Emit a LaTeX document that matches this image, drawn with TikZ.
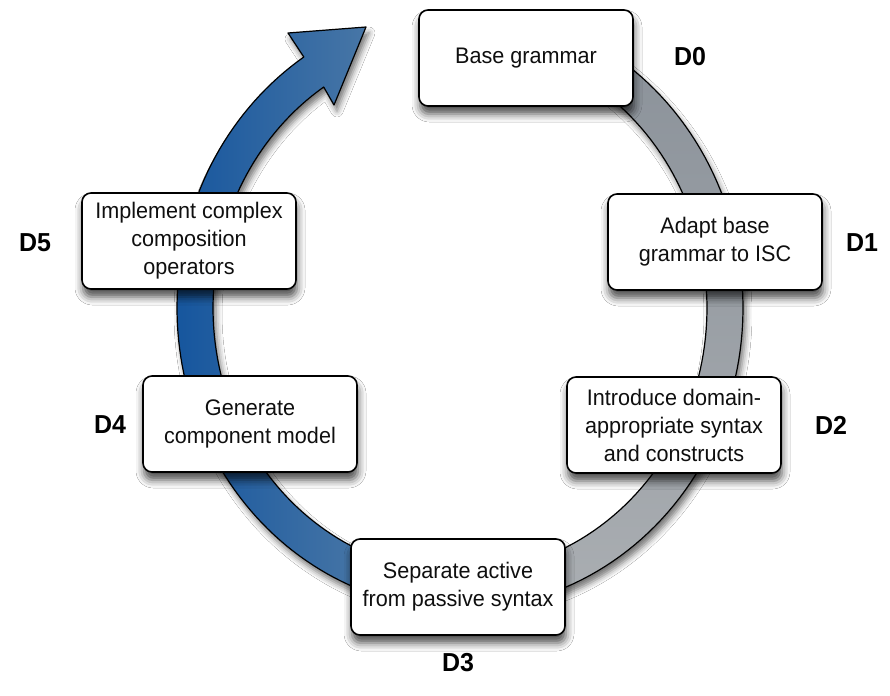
\documentclass[tikz,border=0pt]{standalone}
\usepackage{fontspec}
\setmainfont{Liberation Sans}[FakeStretch=0.96]
\usetikzlibrary{shadows.blur}

\definecolor{inkblack}{RGB}{15,15,15}
\definecolor{ringgrayA}{RGB}{138,145,153}
\definecolor{ringgrayB}{RGB}{170,174,178}
\definecolor{ringblueA}{RGB}{22,86,158}
\definecolor{ringblueB}{RGB}{96,134,170}

\begin{document}
\begin{tikzpicture}[x=1pt,y=-1pt,
  stepbox/.style={draw=black, line width=1.6pt, rounded corners=9pt, fill=white,
    minimum width=214pt, minimum height=96pt, inner sep=4pt, align=center,
    text=inkblack, font=\fontsize{22.5}{28}\selectfont,
    blur shadow={shadow xshift=1pt, shadow yshift=-8pt, shadow blur radius=8pt, shadow opacity=70}},
  stagelabel/.style={font=\fontsize{26}{30}\selectfont\bfseries, text=black},
  band/.style={draw=black, line width=1.2pt, line join=round,
    blur shadow={shadow xshift=3pt, shadow yshift=-6pt, shadow blur radius=6pt, shadow opacity=55}}
]
\fill[white] (0,0) rectangle (890,695);
\useasboundingbox (0,0) rectangle (890,695);

% ring: ellipse centre (460,308), radii 265 x 283, band 36 wide
% grey half, from the top box round the right side to the bottom box
\path[band, top color=ringgrayA, bottom color=ringgrayB]
  plot[domain=-72:90, samples=90, variable=\t] ({460+283*cos(\t)},{308+301*sin(\t)})
  -- plot[domain=90:-72, samples=90, variable=\t] ({460+247*cos(\t)},{308+265*sin(\t)})
  -- cycle;

% blue half, up the left side, ending in the arrow head
\path[band, left color=ringblueA, right color=ringblueB]
  plot[domain=90:236.5, samples=90, variable=\t] ({460+283*cos(\t)},{308+301*sin(\t)})
  -- (288,33) -- (366,27) -- (334,105)
  -- plot[domain=236.5:90, samples=90, variable=\t] ({460+247*cos(\t)},{308+265*sin(\t)})
  -- cycle;

% stage boxes
\node[stepbox] (d0box) at (526,58)  {Base grammar};
\node[stepbox] (d1box) at (715,242) {Adapt base\\grammar to ISC};
\node[stepbox] (d2box) at (674,425) {Introduce domain-\\appropriate syntax\\and constructs};
\node[stepbox] (d3box) at (458,587) {Separate active\\from passive syntax};
\node[stepbox] (d4box) at (250,424) {Generate\\component model};
\node[stepbox] (d5box) at (189,241) {Implement complex\\composition\\operators};

% stage labels
\node[stagelabel] (d0lab) at (690,57)  {D0};
\node[stagelabel] (d1lab) at (862,243) {D1};
\node[stagelabel] (d2lab) at (831,425) {D2};
\node[stagelabel] (d3lab) at (458,663) {D3};
\node[stagelabel] (d4lab) at (110,425) {D4};
\node[stagelabel] (d5lab) at (35,243)  {D5};
\end{tikzpicture}
\end{document}
